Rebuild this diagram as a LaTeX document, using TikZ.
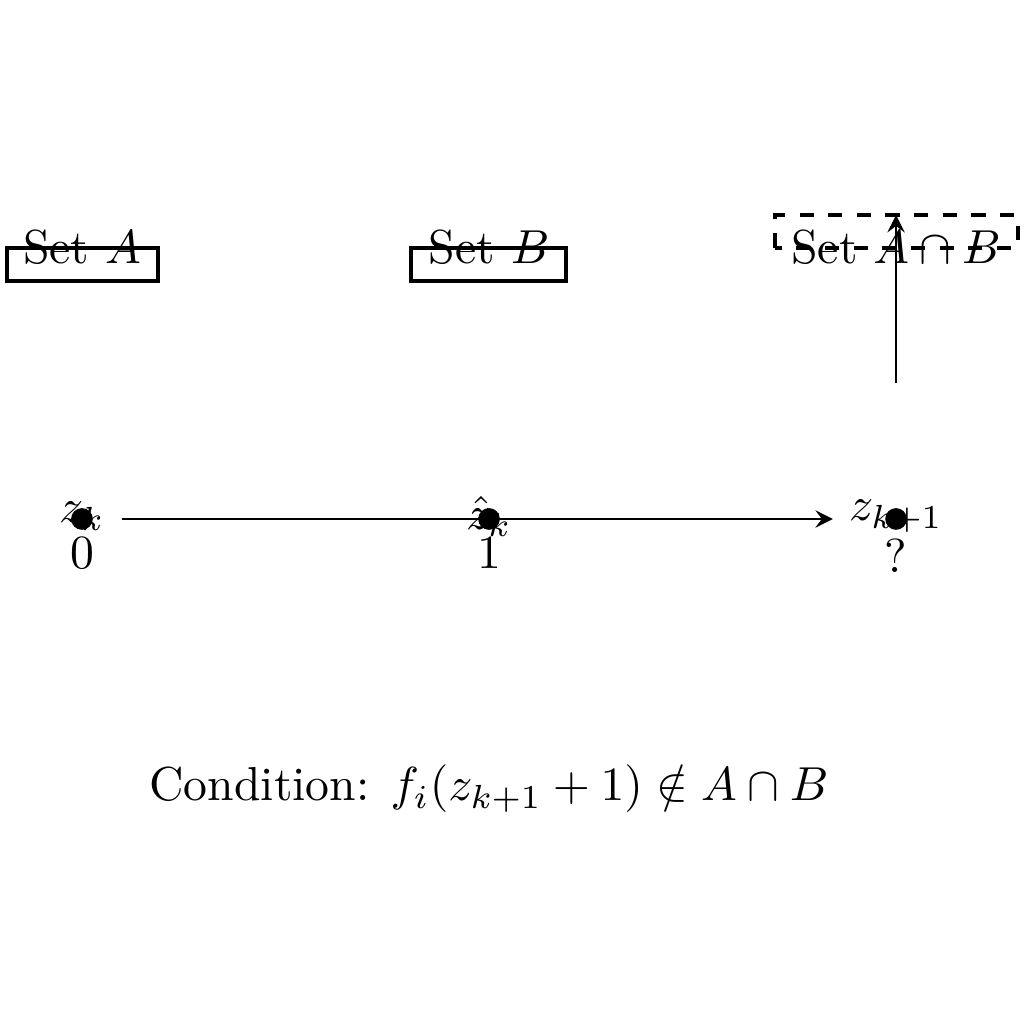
\documentclass[tikz,border=0pt]{standalone}
\usetikzlibrary{arrows}
\begin{document}
\begin{tikzpicture}[>=stealth]
\tikzset{dotpt/.style={circle,fill=black,inner sep=0pt,minimum size=0.16cm},
setbox/.style={draw,thick},
lbl/.style={inner sep=0pt},
conn/.style={->,semithick}}
\useasboundingbox (-0.604,-3.72) rectangle (6.943,3.825);
% sets
\draw[setbox] (-0.553,1.754) rectangle (0.56,2.0);
\node[lbl] (sa) at (0,2.0) {Set $A$};
\draw[setbox] (2.424,1.754) rectangle (3.567,2.0);
\node[lbl] (sb) at (3,2.0) {Set $B$};
\draw[setbox,dashed] (5.107,2.0) rectangle (6.897,2.24);
\node[lbl] (sab) at (6,2.0) {Set $A\cap B$};
% points
\node[dotpt] (p0) at (0,0) {};
\node[dotpt] (p1) at (3,0) {};
\node[dotpt] (p2) at (6,0) {};
\node[lbl] (l0) at (0,0.02) {$z_k$};
\node[lbl] (l1) at (3,0.02) {$\hat{z}_k$};
\node[lbl] (l2) at (6,0.02) {$z_{k+1}$};
\node[lbl] (v0) at (0,-0.25) {0};
\node[lbl] (v1) at (3,-0.25) {1};
\node[lbl] (v2) at (6,-0.27) {?};
\coordinate (as) at (0.295,0);
\coordinate (ae) at (5.534,0);
\draw[conn] (as) -- (ae);
\coordinate (us) at (6,1.0);
\coordinate (ue) at (6,2.24);
\draw[conn] (us) -- (ue);
\node[lbl] (cond) at (3,-1.99) {Condition: $f_i(z_{k+1}+1)\notin A\cap B$};
\end{tikzpicture}
\end{document}
